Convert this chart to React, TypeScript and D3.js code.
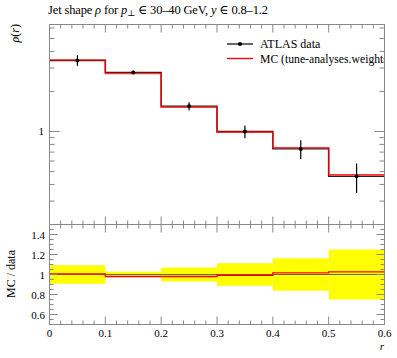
import React from "react";
import * as d3 from "d3";

const binEdges = [0, 0.1, 0.2, 0.3, 0.4, 0.5, 0.6];
const dataValues = [3.42, 2.78, 1.55, 1.0, 0.74, 0.46];
const dataErrors = [0.32, 0.08, 0.11, 0.11, 0.12, 0.115];
const mcValues = [3.45, 2.73, 1.52, 0.99, 0.755, 0.472];
const ratioValues = [1.006, 0.98, 0.98, 0.993, 1.016, 1.026];
const ratioBand = [0.093, 0.028, 0.07, 0.113, 0.162, 0.25];
const xTickLabels = ["0", "0.1", "0.2", "0.3", "0.4", "0.5", "0.6"];
const ratioTickLabels = ["0.6", "0.8", "1", "1.2", "1.4"];

const FONT = "'Liberation Serif', 'DejaVu Serif', serif";

export default function App() {
  const L = 49.5, R = 384.5;
  const mainTop = 24.5, mainBot = 224.5, ratTop = 224.5, ratBot = 324.5;
  const x = d3.scaleLinear().domain([0, 0.6]).range([L, R]);
  const y = d3.scaleLog().domain([0.2, 6.37]).range([mainBot, mainTop]);
  const yr = d3.scaleLinear().domain([0.5, 1.5]).range([ratBot, ratTop]);

  const stepPath = (vals: number[], ys: (v: number) => number) => {
    let p = "";
    vals.forEach((v, i) => {
      const x0 = x(binEdges[i]), x1 = x(binEdges[i + 1]);
      p += (i === 0 ? `M${x0},${ys(v)}` : `L${x0},${ys(v)}`) + `L${x1},${ys(v)}`;
    });
    return p;
  };

  const frame = "#888";
  const xMinor = d3.range(0, 0.6001, 0.02);
  const logTicks: number[] = [];
  [0.1, 1].forEach((dec) => {
    for (let k = 1; k < 10; k++) {
      const v = +(k * dec).toFixed(3);
      if (v >= 0.2 && v <= 6.37) logTicks.push(v);
    }
  });
  const ratioMinor = d3.range(0.5, 1.5001, 0.05).map((v) => +v.toFixed(2));

  const ticksX = (yBase: number, yTopEdge: number) =>
    xMinor.map((t, i) => {
      const major = Math.abs(t * 10 - Math.round(t * 10)) < 1e-6;
      const len = major ? 8 : 4;
      const xx = x(t);
      return (
        <g key={i}>
          <line x1={xx} x2={xx} y1={yBase} y2={yBase - len} stroke={frame} />
          <line x1={xx} x2={xx} y1={yTopEdge} y2={yTopEdge + len} stroke={frame} />
        </g>
      );
    });

  return (
    <svg width={397} height={358} style={{ position: "absolute", left: 0, top: 0 }} fontFamily={FONT}>
      <defs>
        <clipPath id="mainClip">
          <rect x={L} y={mainTop} width={R - L} height={mainBot - mainTop} />
        </clipPath>
        <clipPath id="ratClip">
          <rect x={L} y={ratTop} width={R - L} height={ratBot - ratTop} />
        </clipPath>
      </defs>
      <rect width={397} height={358} fill="white" />
      <text x={48} y={13.5} fontSize={12.5} textLength={220} lengthAdjust="spacing">
        Jet shape <tspan fontStyle="italic">ρ</tspan> for <tspan fontStyle="italic">p</tspan>
        <tspan fontSize={8.5} dy={2}>⊥</tspan>
        <tspan dy={-2}> ∈ 30–40 GeV, </tspan>
        <tspan fontStyle="italic">y</tspan> ∈ 0.8–1.2
      </text>

      {/* Main panel */}
      <g clipPath="url(#mainClip)">
        <path d={stepPath(dataValues, y)} fill="none" stroke="#222" strokeWidth={1.4} />
        <path d={stepPath(mcValues, y)} fill="none" stroke="#f00" strokeWidth={1.6} strokeOpacity={0.8} />
        {dataValues.map((v, i) => {
          const cx = x((binEdges[i] + binEdges[i + 1]) / 2);
          return (
            <g key={i}>
              <line x1={cx} x2={cx} y1={y(v - dataErrors[i])} y2={y(v + dataErrors[i])} stroke="#000" strokeWidth={1.2} />
              <circle cx={cx} cy={y(v)} r={2} fill="#000" />
            </g>
          );
        })}
      </g>
      {/* legend */}
      <g>
        <line x1={227} x2={253} y1={44} y2={44} stroke="#000" strokeWidth={1.2} />
        <circle cx={240} cy={44} r={2} fill="#000" />
        <text x={260} y={48} fontSize={12}>ATLAS data</text>
        <line x1={227} x2={253} y1={58.5} y2={58.5} stroke="#f00" strokeWidth={1.4} />
        <g clipPath="url(#mainClip)">
          <text x={260} y={62.5} fontSize={11.7}>MC (tune-analyses.weights)</text>
        </g>
      </g>
      {/* main y ticks */}
      {logTicks.map((t, i) => {
        const major = Math.abs(t - 1) < 1e-9;
        const len = major ? 10 : 5;
        return (
          <g key={i}>
            <line x1={L} x2={L + len} y1={y(t)} y2={y(t)} stroke={frame} />
            <line x1={R} x2={R - len} y1={y(t)} y2={y(t)} stroke={frame} />
          </g>
        );
      })}
      <text x={44} y={y(1) + 4} fontSize={11} textAnchor="end">1</text>
      {ticksX(mainBot, mainTop)}
      <rect x={L} y={mainTop} width={R - L} height={mainBot - mainTop} fill="none" stroke={frame} />
      <text transform={`translate(19,24) rotate(-90)`} fontSize={12} textAnchor="end">
        <tspan fontStyle="italic">ρ</tspan>(<tspan fontStyle="italic">r</tspan>)
      </text>

      {/* Ratio panel */}
      <g clipPath="url(#ratClip)">
        {ratioBand.map((b, i) => (
          <rect key={i} x={x(binEdges[i])} width={x(binEdges[i + 1]) - x(binEdges[i])} y={yr(1 + b)} height={yr(1 - b) - yr(1 + b)} fill="#ffff00" />
        ))}
        <line x1={L} x2={R} y1={yr(1)} y2={yr(1)} stroke="#666" strokeWidth={1} />
        <path d={stepPath(ratioValues, yr)} fill="none" stroke="#f00" strokeWidth={1.4} />
      </g>
      {ratioMinor.map((t, i) => {
        const major = Math.abs(t * 5 - Math.round(t * 5)) < 1e-6;
        const len = major ? 8 : 4;
        return (
          <g key={i}>
            <line x1={L} x2={L + len} y1={yr(t)} y2={yr(t)} stroke={frame} />
            <line x1={R} x2={R - len} y1={yr(t)} y2={yr(t)} stroke={frame} />
          </g>
        );
      })}
      {ratioTickLabels.map((t) => (
        <text key={t} x={45} y={yr(+t) + 4} fontSize={11} textAnchor="end">{t}</text>
      ))}
      {ticksX(ratBot, ratTop)}
      <rect x={L} y={ratTop} width={R - L} height={ratBot - ratTop} fill="none" stroke={frame} />
      {xTickLabels.map((t) => (
        <text key={t} x={x(+t)} y={337} fontSize={11} textAnchor="middle">{t}</text>
      ))}
      <text x={384} y={350} fontSize={11} fontStyle="italic" textAnchor="end">r</text>
      <text transform={`translate(15,274) rotate(-90)`} fontSize={12} textAnchor="middle">MC / data</text>
    </svg>
  );
}
